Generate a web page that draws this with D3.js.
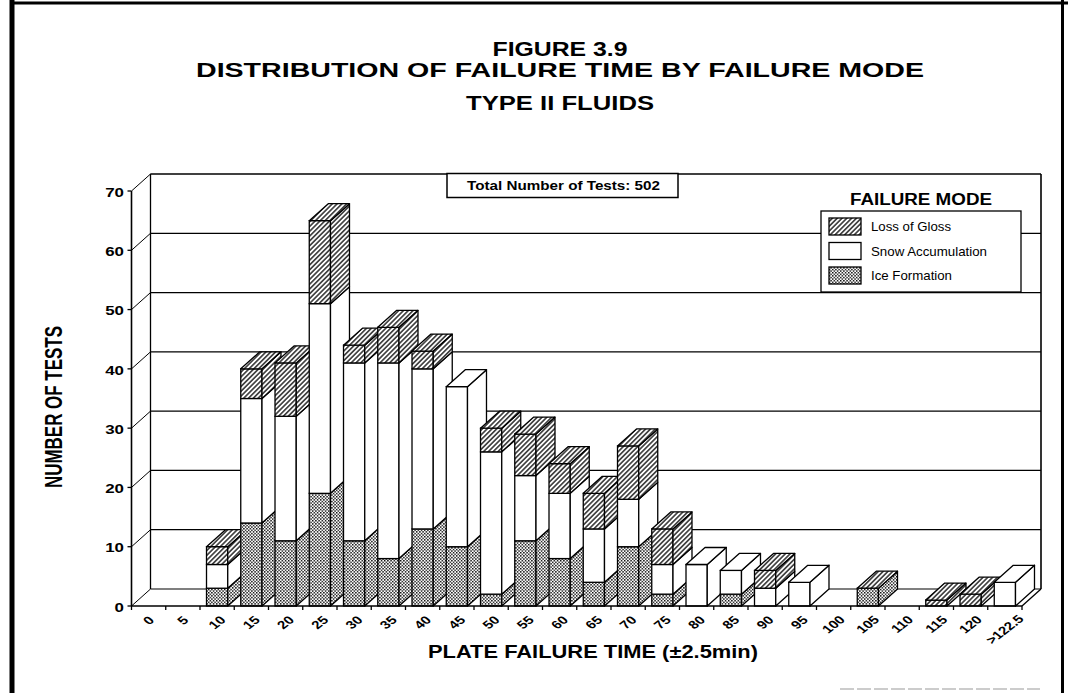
<!DOCTYPE html>
<html>
<head>
<meta charset="utf-8">
<script src="https://cdn.jsdelivr.net/npm/d3@7"></script>
<style>
body { margin: 0; background: #fff; }
svg { display: block; }
text { font-family: "Liberation Sans", Arial, sans-serif; fill: #000; }
</style>
</head>
<body>
<svg id="chart" width="1068" height="693"></svg>
<script>
// failure time buckets (minutes)
const categories = ["0", "5", "10", "15", "20", "25", "30", "35", "40", "45", "50", "55", "60",
    "65", "70", "75", "80", "85", "90", "95", "100", "105", "110", "115", "120", ">122.5"];
// null = no segment drawn
const iceFormation = [null, null, 3, 14, 11, 19, 11, 8, 13, 10, 2, 11, 8,
    4, 10, 2, null, 2, null, null, null, 3, null, null, null, null];
const snowAccumulation = [null, null, 4, 21, 21, 32, 30, 33, 27, 27, 24, 11, 11,
    9, 8, 5, 7, 4, 3, 4, null, null, null, null, null, 4];
const lossOfGloss = [null, null, 3, 5, 9, 14, 3, 6, 3, null, 4, 7, 5,
    6, 9, 6, null, null, 3, null, null, 0, null, 1, 2, null];
const yTicks = [0, 10, 20, 30, 40, 50, 60, 70];
const legendNames = ["Loss of Gloss", "Snow Accumulation", "Ice Formation"];
const totalTests = 502;

var svg = d3.select("#chart");
var DX = 19, DY = 17; // depth of the 3d box
var x0 = 131.5, x1 = 1022;

var x = d3.scaleBand()
        .domain(categories)
        .range([x0, x1])
        .paddingInner(0.38)
        .paddingOuter(0.19);
var y = d3.scaleLinear().domain([0, 70]).range([606, 191]);

//patterns
var defs = svg.append("defs");
var hatch = defs.append("pattern")
        .attr("id", "hatch")
        .attr("patternUnits", "userSpaceOnUse")
        .attr("width", 3.4).attr("height", 3.4)
        .attr("patternTransform", "rotate(45)");
hatch.append("rect").attr("width", 3.4).attr("height", 3.4).attr("fill", "#fff");
hatch.append("line")
        .attr("x1", 1.7).attr("y1", 0).attr("x2", 1.7).attr("y2", 3.4)
        .attr("stroke", "#000").attr("stroke-width", 1.25);

var dots = defs.append("pattern")
        .attr("id", "dots")
        .attr("patternUnits", "userSpaceOnUse")
        .attr("width", 3.2).attr("height", 3.2);
dots.append("rect").attr("width", 3.2).attr("height", 3.2).attr("fill", "#fff");
dots.append("rect").attr("x", 0).attr("y", 0).attr("width", 1.4).attr("height", 1.4).attr("fill", "#000");
dots.append("rect").attr("x", 1.6).attr("y", 1.6).attr("width", 1.4).attr("height", 1.4).attr("fill", "#000");

var fills = ["url(#dots)", "#fff", "url(#hatch)"];

function ln(g, ax, ay, bx, by, w) {
    return g.append("line")
            .attr("x1", ax).attr("y1", ay)
            .attr("x2", bx).attr("y2", by)
            .attr("stroke", "#000")
            .attr("stroke-width", w || 1.3);
}

// ---- frame of the page
ln(svg, 12, 0, 12, 693, 5);
ln(svg, 10, 3, 1068, 3, 3);
ln(svg, 1062.5, 0, 1062.5, 693, 3);
ln(svg, 840, 689, 1040, 689, 1).attr("stroke", "#999").attr("stroke-dasharray", "14,3");

// ---- titles
var titles = [["FIGURE 3.9", 56, 135], ["DISTRIBUTION OF FAILURE TIME BY FAILURE MODE", 77, 728], ["TYPE II FLUIDS", 110, 188]];
titles.forEach((t) => {
    svg.append("text")
            .attr("x", 560).attr("y", t[1])
            .attr("text-anchor", "middle")
            .attr("font-size", 21)
            .attr("font-weight", "bold")
            .attr("textLength", t[2])
            .attr("lengthAdjust", "spacingAndGlyphs")
            .text(t[0]);
});

// ---- walls
var walls = svg.append("g");
ln(walls, x0 + DX, y(0) - DY, x0 + DX, y(70) - DY);
ln(walls, x1 + DX, y(0) - DY, x1 + DX, y(70) - DY, 1.6);
ln(walls, x1, y(0), x1 + DX, y(0) - DY);
yTicks.forEach((v) => {
    ln(walls, x0, y(v), x0 + DX, y(v) - DY, 1);
    ln(walls, x0 + DX, y(v) - DY, x1 + DX, y(v) - DY, v == 70 ? 1.6 : 1.2);
});

// ---- bars
var step = x.step(), bw = x.bandwidth();
var bars = svg.append("g");
categories.forEach((c, i) => {
    var raw = [iceFormation[i], snowAccumulation[i], lossOfGloss[i]];
    var topK = -1;
    raw.forEach((v, k) => { if (v !== null) topK = k; });
    if (topK < 0) return;
    var bx = x(c);
    var base = 0;
    var g = bars.append("g");
    raw.forEach((v, k) => {
        if (v === null || v === 0) return;
        var ya = y(base), yb = y(base + v);
        g.append("rect")
                .attr("x", bx).attr("y", yb)
                .attr("width", bw).attr("height", ya - yb)
                .attr("fill", fills[k])
                .attr("stroke", "#000").attr("stroke-width", 1.3);
        g.append("polygon")
                .attr("points", [[bx + bw, ya], [bx + bw, yb], [bx + bw + DX, yb - DY], [bx + bw + DX, ya - DY]].join(" "))
                .attr("fill", fills[k])
                .attr("stroke", "#000").attr("stroke-width", 1.3)
                .attr("stroke-linejoin", "round");
        base += v;
    });
    var yt = y(base);
    g.append("polygon")
            .attr("points", [[bx, yt], [bx + bw, yt], [bx + bw + DX, yt - DY], [bx + DX, yt - DY]].join(" "))
            .attr("fill", fills[topK])
            .attr("stroke", "#000").attr("stroke-width", 1.3)
            .attr("stroke-linejoin", "round");
});

// ---- axes
var axes = svg.append("g");
ln(axes, x0, y(0), x1, y(0), 1.6);
ln(axes, x0, y(0), x0, y(70), 1.6);
for (var i = 0; i <= categories.length; i++) {
    var tx = x0 + i * step;
    ln(axes, tx, y(0), tx, y(0) + 4, 1.3);
}
yTicks.forEach((v) => {
    ln(axes, x0 - 4, y(v), x0, y(v), 1.3);
    axes.append("text")
            .attr("transform", "translate(124," + (y(v) + 1) + ") scale(1.3,1)")
            .attr("text-anchor", "end")
            .attr("dominant-baseline", "central")
            .attr("font-size", 13)
            .attr("font-weight", "bold")
            .text(v);
});
categories.forEach((c) => {
    var t = axes.append("text")
            .attr("text-anchor", "middle")
            .attr("dominant-baseline", "central")
            .attr("font-size", 11.5)
            .attr("font-weight", "bold")
            .text(c);
    var L = t.node().getComputedTextLength();
    var cx = x(c) + bw / 2;
    var cy = 616 + (L + 8) * 0.62 / 2;
    t.attr("transform", "translate(" + cx + "," + cy + ") scale(1.3,1) rotate(-45)");
});

svg.append("text")
        .attr("x", 593).attr("y", 658)
        .attr("text-anchor", "middle")
        .attr("font-size", 18)
        .attr("font-weight", "bold")
        .attr("textLength", 330)
        .attr("lengthAdjust", "spacingAndGlyphs")
        .text("PLATE FAILURE TIME (±2.5min)");

svg.append("text")
        .attr("transform", "translate(62,407) rotate(-90)")
        .attr("text-anchor", "middle")
        .attr("font-size", 24)
        .attr("font-weight", "bold")
        .attr("textLength", 162)
        .attr("lengthAdjust", "spacingAndGlyphs")
        .text("NUMBER OF TESTS");

// ---- total box
svg.append("rect")
        .attr("x", 447).attr("y", 173.5)
        .attr("width", 231).attr("height", 24)
        .attr("fill", "#fff")
        .attr("stroke", "#000").attr("stroke-width", 1.5);
svg.append("text")
        .attr("x", 467).attr("y", 190)
        .attr("font-size", 13)
        .attr("font-weight", "bold")
        .attr("textLength", 193)
        .attr("lengthAdjust", "spacingAndGlyphs")
        .text("Total Number of Tests: " + totalTests);

// ---- legend
svg.append("text")
        .attr("x", 850).attr("y", 205)
        .attr("font-size", 16)
        .attr("font-weight", "bold")
        .attr("textLength", 142)
        .attr("lengthAdjust", "spacingAndGlyphs")
        .text("FAILURE MODE");
svg.append("rect")
        .attr("x", 821).attr("y", 211)
        .attr("width", 200).attr("height", 81)
        .attr("fill", "#fff")
        .attr("stroke", "#000").attr("stroke-width", 1.3);
var legFill = [fills[2], fills[1], fills[0]];
var legLen = [80, 116, 81];
legendNames.forEach((n, i) => {
    var ly = 218 + i * 24.5;
    svg.append("rect")
            .attr("x", 829).attr("y", ly)
            .attr("width", 32).attr("height", 17)
            .attr("fill", legFill[i])
            .attr("stroke", "#000").attr("stroke-width", 1.3);
    svg.append("text")
            .attr("x", 871).attr("y", ly + 13)
            .attr("font-size", 13)
            .attr("textLength", legLen[i])
            .attr("lengthAdjust", "spacingAndGlyphs")
            .text(n);
});
</script>
</body>
</html>
